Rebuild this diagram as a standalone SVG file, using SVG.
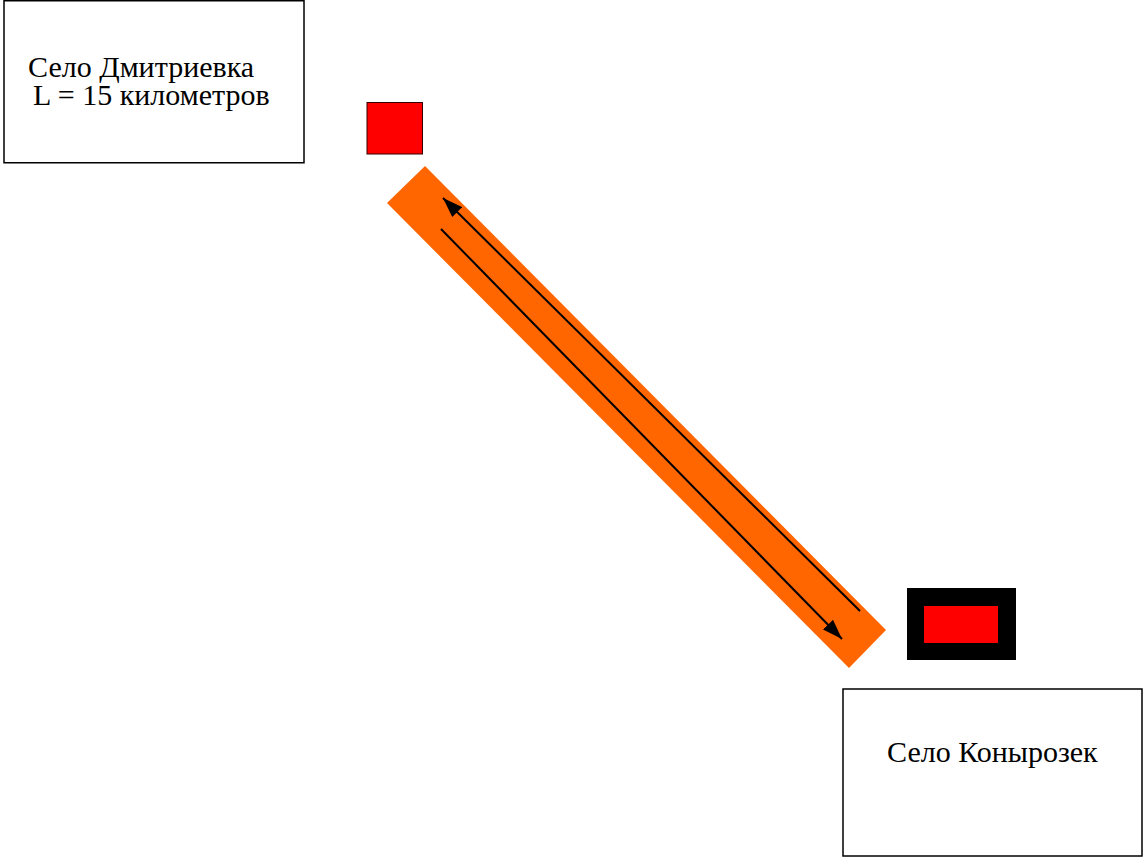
<svg xmlns="http://www.w3.org/2000/svg" width="1144" height="857" viewBox="0 0 1144 857">
<defs>
<style>
.box{fill:#fff;stroke:#000;stroke-width:1.5}
.lbl{font-family:"Liberation Serif","Times New Roman",serif;font-size:30px;fill:#000}
.arr{stroke:#000;stroke-width:2;fill:none}
</style>
<marker id="ah" viewBox="0 0 20 14" refX="20" refY="7" markerWidth="20" markerHeight="14" markerUnits="userSpaceOnUse" orient="auto">
<path d="M0,0 L20,7 L0,14 z" fill="#000"/>
</marker>
</defs>
<rect width="1144" height="857" fill="#fff"/>
<g id="road">
<polygon points="425,166 886,630 849,668 387,203" fill="#ff6600"/>
</g>
<g id="dmitrievka">
<rect class="box" x="4" y="0.75" width="300" height="162"/>
<text class="lbl" x="28" y="77">Село Дмитриевка</text>
<text class="lbl" x="33" y="105">L = 15 километров</text>
</g>
<g id="marker-top">
<rect x="367" y="102.5" width="55.5" height="51.5" fill="#ff0000" stroke="#300" stroke-width="1"/>
</g>
<g id="marker-bottom">
<rect x="907" y="588" width="109" height="72" fill="#000"/>
<rect x="924" y="606" width="74" height="37" fill="#ff0000"/>
</g>
<g id="konyrozek">
<rect class="box" x="843" y="689" width="299" height="167"/>
<text class="lbl" x="887" y="762">Село Конырозек</text>
</g>
<g id="connectors">
<line class="arr" x1="860" y1="611" x2="443" y2="198" marker-end="url(#ah)"/>
<line class="arr" x1="441" y1="229" x2="842" y2="639" marker-end="url(#ah)"/>
</g>
</svg>
